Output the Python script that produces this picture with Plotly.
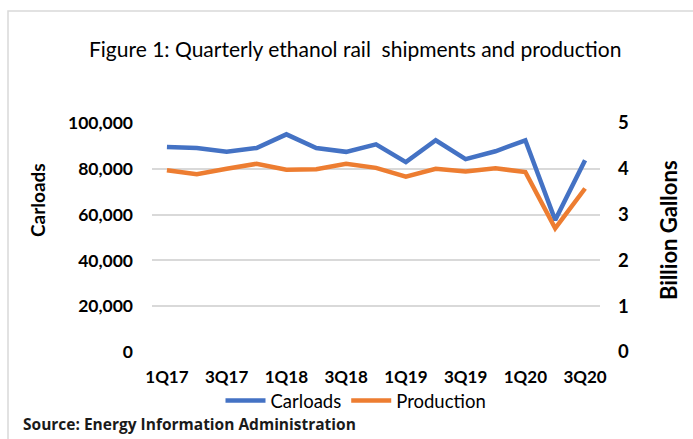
import plotly.graph_objects as go

quarters = ["1Q17", "2Q17", "3Q17", "4Q17", "1Q18", "2Q18", "3Q18", "4Q18",
            "1Q19", "2Q19", "3Q19", "4Q19", "1Q20", "2Q20", "3Q20"]
carloads = [89550, 89100, 87400, 89100, 95050, 89100, 87400, 90700,
            82900, 92450, 84200, 87650, 92450, 57600, 83750]
production = [3.97, 3.88, 4.00, 4.11, 3.98, 3.99, 4.11, 4.02,
              3.83, 4.00, 3.94, 4.01, 3.93, 2.70, 3.57]
tick_labels = ["1Q17", "3Q17", "1Q18", "3Q18", "1Q19", "3Q19", "1Q20", "3Q20"]

W, H = 693, 439
L, R, T, B = 152, 600, 123, 352  # plot area in pixels


def px(x):
    return (x - L) / (R - L)


def py(y):
    return (B - y) / (B - T)


FONT = "Lato"
BLUE = "#4472C4"
ORANGE = "#ED7D31"

fig = go.Figure()
fig.add_trace(go.Scatter(x=quarters, y=carloads, name="Carloads", mode="lines",
                         line=dict(color=BLUE, width=4.5)))
fig.add_trace(go.Scatter(x=quarters, y=production, name="Production", mode="lines",
                         line=dict(color=ORANGE, width=4.5), yaxis="y2"))

fig.update_layout(
    width=W, height=H,
    margin=dict(l=L, r=W - R, t=T, b=H - B),
    paper_bgcolor="white", plot_bgcolor="white",
    font=dict(family=FONT, color="#000000"),
    showlegend=True,
    legend=dict(orientation="h", x=px(356), y=py(401), xanchor="center", yanchor="middle",
                font=dict(family=FONT, size=18.5, color="#000000"),
                bgcolor="rgba(0,0,0,0)", itemwidth=40, tracegroupgap=0),
    xaxis=dict(type="category", range=[-0.5, 14.5], showgrid=False, showline=False,
               zeroline=False, tickmode="array", tickvals=tick_labels, ticktext=tick_labels,
               ticks="", ticklabelstandoff=13,
               tickfont=dict(family=FONT, size=17, color="#000000", weight="bold")),
    yaxis=dict(range=[0, 100000], tickvals=[0, 20000, 40000, 60000, 80000, 100000],
               tickformat=",d", showgrid=True, gridcolor="#D9D9D9", gridwidth=1.5,
               zeroline=False, showline=False, ticks="", ticklabelstandoff=18,
               tickfont=dict(family=FONT, size=17.5, color="#000000", weight="bold")),
    yaxis2=dict(range=[0, 5], tickvals=[0, 1, 2, 3, 4, 5], overlaying="y", side="right",
                showgrid=False, zeroline=False, showline=False, ticks="",
                ticklabelstandoff=17,
                tickfont=dict(family=FONT, size=18.5, color="#000000", weight="bold")),
    shapes=[dict(type="rect", xref="paper", yref="paper",
                 x0=px(8), x1=px(720), y0=py(460), y1=py(11),
                 line=dict(color="#D9D9D9", width=1.5), fillcolor="rgba(0,0,0,0)",
                 layer="below")],
    annotations=[
        dict(text="Figure 1: Quarterly ethanol rail  shipments and production",
             xref="paper", yref="paper", x=px(355), y=py(48), xanchor="center",
             yanchor="middle", showarrow=False,
             font=dict(family=FONT, size=21, color="#000000")),
        dict(text="Carloads", xref="paper", yref="paper", x=px(37), y=py(200),
             xanchor="center", yanchor="middle", showarrow=False, textangle=-90,
             font=dict(family=FONT, size=19, color="#000000", weight="bold")),
        dict(text="Billion Gallons", xref="paper", yref="paper", x=px(668), y=py(230),
             xanchor="center", yanchor="middle", showarrow=False, textangle=-90,
             font=dict(family=FONT, size=22, color="#000000", weight="bold")),
        dict(text="Source: Energy Information Administration", xref="paper", yref="paper",
             x=px(21), y=py(424), xanchor="left", yanchor="middle", showarrow=False,
             font=dict(family="Open Sans", size=15.5, color="#1a1a1a", weight="bold")),
    ],
)

fig.write_html("out.html")
